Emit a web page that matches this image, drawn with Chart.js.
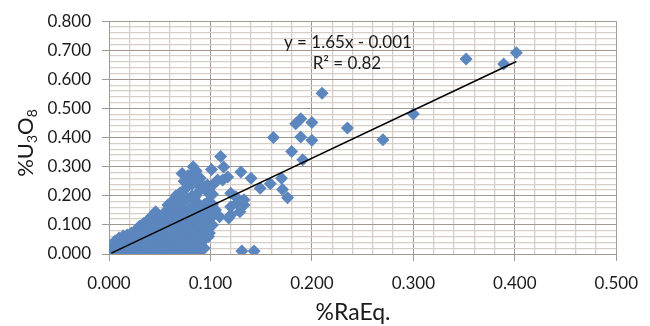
<!DOCTYPE html>
<html>
<head>
<meta charset="utf-8">
<script src="https://cdn.jsdelivr.net/npm/chart.js@4/dist/chart.umd.min.js"></script>
<style>
  html, body { margin: 0; padding: 0; background: #fff; overflow: hidden; }
  #wrap { width: 650px; height: 326px; }
</style>
</head>
<body>
<div id="wrap"><canvas id="chart" width="650" height="326"></canvas></div>
<script>
// dense cluster of samples near the origin, [%RaEq, %U3O8]
const clusterPoints = [
  [0.002,0.003],[0.002,0.020],
  [0.006,0.003],[0.006,0.025],[0.006,0.045],
  [0.010,0.002],[0.010,0.020],[0.010,0.040],[0.010,0.055],
  [0.014,0.004],[0.014,0.025],[0.014,0.045],[0.014,0.062],
  [0.018,0.003],[0.018,0.022],[0.018,0.042],[0.018,0.065],
  [0.022,0.002],[0.022,0.025],[0.022,0.050],[0.022,0.072],
  [0.026,0.004],[0.026,0.030],[0.026,0.055],[0.026,0.080],
  [0.030,0.003],[0.030,0.028],[0.030,0.055],[0.030,0.080],[0.030,0.095],
  [0.034,0.002],[0.034,0.030],[0.034,0.060],[0.034,0.085],[0.034,0.105],
  [0.038,0.004],[0.038,0.030],[0.038,0.060],[0.038,0.090],[0.038,0.115],
  [0.042,0.003],[0.042,0.028],[0.042,0.055],[0.042,0.085],[0.042,0.110],[0.042,0.130],
  [0.046,0.002],[0.046,0.030],[0.046,0.060],[0.046,0.090],[0.046,0.120],[0.046,0.145],
  [0.050,0.004],[0.050,0.030],[0.050,0.060],[0.050,0.090],[0.050,0.115],
  [0.054,0.003],[0.054,0.030],[0.054,0.060],[0.054,0.090],[0.054,0.120],[0.054,0.140],
  [0.058,0.002],[0.058,0.030],[0.058,0.060],[0.058,0.090],[0.058,0.120],[0.058,0.150],[0.058,0.168],
  [0.062,0.004],[0.062,0.030],[0.062,0.060],[0.062,0.090],[0.062,0.120],[0.062,0.150],[0.062,0.180],
  [0.066,0.003],[0.066,0.030],[0.066,0.060],[0.066,0.090],[0.066,0.120],[0.066,0.150],[0.066,0.180],[0.066,0.200],
  [0.070,0.002],[0.070,0.030],[0.070,0.060],[0.070,0.090],[0.070,0.120],[0.070,0.150],[0.070,0.180],[0.070,0.210],
  [0.074,0.004],[0.074,0.030],[0.074,0.060],[0.074,0.090],[0.074,0.120],[0.074,0.150],[0.074,0.180],[0.074,0.220],[0.074,0.250],
  [0.078,0.003],[0.078,0.030],[0.078,0.060],[0.078,0.090],[0.078,0.120],[0.078,0.150],[0.078,0.190],[0.078,0.235],[0.078,0.270],
  [0.082,0.002],[0.082,0.030],[0.082,0.060],[0.082,0.090],[0.082,0.120],[0.082,0.160],[0.082,0.200],[0.082,0.240],[0.082,0.275],
  [0.086,0.004],[0.086,0.030],[0.086,0.060],[0.086,0.090],[0.086,0.120],[0.086,0.150],[0.086,0.180],[0.086,0.245],[0.086,0.285],
  [0.090,0.010],[0.090,0.040],[0.090,0.070],[0.090,0.100],[0.090,0.130],[0.090,0.160],[0.090,0.220],[0.090,0.260],
  [0.094,0.020],[0.094,0.050],[0.094,0.080],[0.094,0.110],[0.094,0.140],[0.094,0.170],[0.094,0.230],
  [0.098,0.060],[0.098,0.090],[0.098,0.120],[0.098,0.150],[0.098,0.180],[0.098,0.210],
  [0.102,0.100],[0.102,0.130],[0.102,0.170],[0.102,0.205]
];

// scattered samples away from the cluster
const outlierPoints = [
  [0.4015,0.692],[0.389,0.653],[0.352,0.670],[0.300,0.481],[0.270,0.393],[0.235,0.433],[0.210,0.552],
  [0.184,0.448],[0.189,0.465],[0.200,0.452],[0.162,0.400],[0.189,0.402],[0.200,0.391],
  [0.180,0.352],[0.191,0.324],[0.140,0.260],[0.149,0.226],[0.159,0.241],[0.170,0.260],
  [0.171,0.222],[0.176,0.193],[0.133,0.168],[0.131,0.010],[0.143,0.010],
  [0.110,0.335],[0.101,0.290],[0.113,0.299],[0.102,0.236],[0.112,0.254],[0.130,0.282],
  [0.107,0.254],[0.117,0.265],[0.097,0.237],[0.125,0.197],[0.120,0.162],[0.109,0.128],
  [0.120,0.134],[0.118,0.124],[0.105,0.151],[0.126,0.175],[0.133,0.186],[0.120,0.209],
  [0.129,0.145],[0.083,0.300],[0.072,0.277],[0.085,0.198],[0.097,0.090],[0.088,0.026],
  [0.081,0.030],[0.099,0.072],[0.075,0.026]
];

// linear trendline end points
const trendX = [0.0023, 0.4015];
const trendY = [0.0028, 0.6615];

const xTickLabels = ['0.000', '0.100', '0.200', '0.300', '0.400', '0.500'];
const yTickLabels = ['0.000', '0.100', '0.200', '0.300', '0.400', '0.500', '0.600', '0.700', '0.800'];

const equationText = 'y = 1.65x - 0.001';
const r2Text = 'R\u00B2 = 0.82';

const FONT = 'Lato, "Liberation Sans", sans-serif';
const MAJOR = '#a39890';
const MINOR = '#d8cec8';
const MARKER = 'rgb(92,134,190)';

function isMajor(v) {
  return Math.abs(v * 10 - Math.round(v * 10)) < 1e-6;
}
function majorLabel(v, list) {
  if (!isMajor(v)) return '';
  return list[Math.round(v * 10)];
}

const scatterData = clusterPoints.concat(outlierPoints).map(p => ({ x: p[0], y: p[1] }));
const trendData = trendX.map((x, i) => ({ x: x, y: trendY[i] }));

const textPlugin = {
  id: 'texts',
  afterDraw(chart) {
    const ctx = chart.ctx;
    const xs = chart.scales.x, ys = chart.scales.y;
    ctx.save();
    ctx.fillStyle = '#1a1a1a';
    ctx.textAlign = 'center';
    ctx.textBaseline = 'middle';

    // trendline equation
    ctx.font = '17px ' + FONT;
    ctx.fillText(equationText, xs.getPixelForValue(0.2355), ys.getPixelForValue(0.728));
    ctx.fillText(r2Text, xs.getPixelForValue(0.2345), ys.getPixelForValue(0.653));

    // x axis title
    ctx.font = '23px ' + FONT;
    ctx.fillText('%RaEq.', 353, 313);

    // y axis title with subscripts
    const parts = [['%U', 22, 0], ['3', 14, 6], ['O', 22, 0], ['8', 14, 6]];
    let total = 0;
    parts.forEach(p => { ctx.font = p[1] + 'px ' + FONT; total += ctx.measureText(p[0]).width; });
    ctx.translate(26, 143);
    ctx.rotate(-Math.PI / 2);
    ctx.textAlign = 'left';
    let cx = -total / 2;
    parts.forEach(p => {
      ctx.font = p[1] + 'px ' + FONT;
      ctx.fillText(p[0], cx, p[2]);
      cx += ctx.measureText(p[0]).width;
    });
    ctx.restore();
  }
};

new Chart(document.getElementById('chart'), {
  type: 'scatter',
  data: {
    datasets: [
      {
        type: 'line',
        label: 'Trend',
        data: trendData,
        borderColor: '#000',
        borderWidth: 1.5,
        pointRadius: 0,
        fill: false
      },
      {
        label: '%U3O8',
        data: scatterData,
        pointStyle: 'rectRot',
        pointRadius: 6.5,
        backgroundColor: MARKER,
        borderColor: MARKER,
        borderWidth: 0
      }
    ]
  },
  plugins: [textPlugin],
  options: {
    responsive: false,
    animation: false,
    layout: { padding: { top: 20, right: 23, left: 0, bottom: 0 } },
    plugins: { legend: { display: false }, tooltip: { enabled: false } },
    scales: {
      x: {
        type: 'linear',
        min: 0,
        max: 0.5,
        afterFit: s => { s.height = 72; },
        border: { display: true, color: MAJOR, width: 1 },
        grid: {
          color: c => isMajor(c.tick.value) ? MAJOR : MINOR,
          lineWidth: c => isMajor(c.tick.value) ? 1 : 1.3,
          tickColor: c => isMajor(c.tick.value) ? MAJOR : 'rgba(0,0,0,0)',
          tickLength: 7
        },
        ticks: {
          stepSize: 0.02,
          autoSkip: false,
          maxRotation: 0,
          minRotation: 0,
          padding: 12,
          color: '#1a1a1a',
          font: { family: FONT, size: 17 },
          callback: v => majorLabel(v, xTickLabels)
        }
      },
      y: {
        type: 'linear',
        min: 0,
        max: 0.8,
        afterFit: s => { s.width = 109; },
        border: { display: true, color: MAJOR, width: 1 },
        grid: {
          color: c => isMajor(c.tick.value) ? MAJOR : MINOR,
          lineWidth: c => isMajor(c.tick.value) ? 1 : 1.3,
          tickColor: c => isMajor(c.tick.value) ? MAJOR : 'rgba(0,0,0,0)',
          tickLength: 7
        },
        ticks: {
          stepSize: 0.02,
          autoSkip: false,
          padding: 11,
          color: '#1a1a1a',
          font: { family: FONT, size: 17 },
          callback: v => majorLabel(v, yTickLabels)
        }
      }
    }
  }
});
</script>
</body>
</html>
